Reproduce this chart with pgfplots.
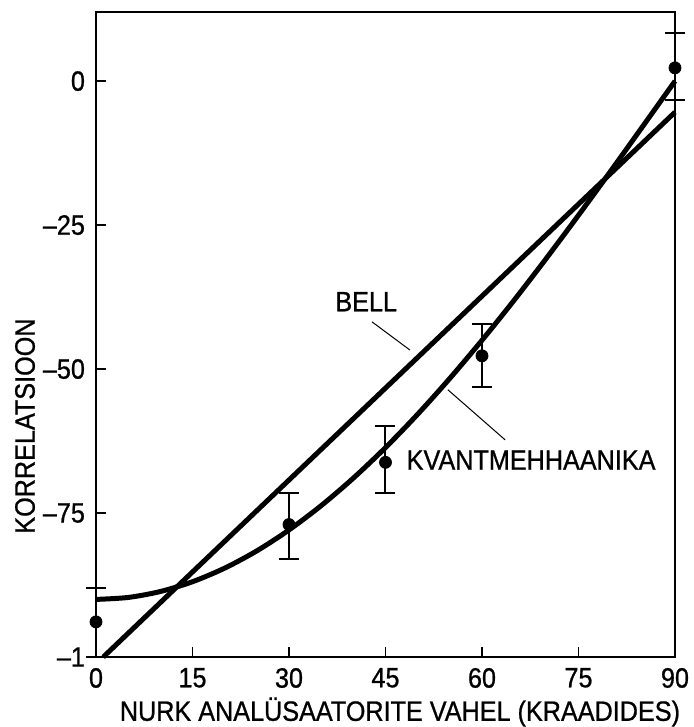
\documentclass[border=0pt]{standalone}
\usepackage{pgfplots}
\pgfplotsset{compat=1.18}
\usepackage{fontspec}
\setmainfont[FakeStretch=0.9,FakeBold=0.8]{Liberation Sans}
\begin{document}
\begin{tikzpicture}
\useasboundingbox (-48pt,-35pt) rectangle (298.5pt,328.5pt);
\begin{axis}[
  at={(0,0)}, anchor=south west,
  scale only axis, width=289.5pt, height=322.5pt,
  xmin=0, xmax=90, ymin=-100, ymax=12,
  axis line style={line width=1pt},
  xtick={0,15,30,45,60,75,90},
  ytick={-100,-75,-50,-25,0},
  yticklabels={--1,--75,--50,--25,0},
  xticklabels={0,15,30,45,60,75,90},
  /pgf/number format/assume math mode=true,
  tick align=inside, xtick pos=bottom, ytick pos=left,
  major tick length=5pt,
  tick style={line width=0.9pt, black},
  ticklabel style={font=\fontsize{14}{16}\selectfont},
  yticklabel style={xshift=-2pt},
  xticklabel style={yshift=-2pt},
  xlabel={NURK ANALÜSAATORITE VAHEL (KRAADIDES)},
  ylabel={KORRELATSIOON},
  label style={font=\fontsize{14}{16}\selectfont},
  xlabel style={at={(rel axis cs:0.525,0)}, anchor=center, yshift=-27.5pt},
  ylabel style={at={(rel axis cs:-0.1226,0.358)}, anchor=center},
  clip=false,
]
% Bell linear prediction
\addplot[black, line width=2.5pt] coordinates {(1.13,-100) (90,-5.4)};
% quantum mechanical prediction
\addplot[black, line width=2.5pt, smooth] coordinates {
(0,-90) (5,-89.66) (10,-88.63) (15,-86.93) (20,-84.57) (25,-81.57)
(30,-77.94) (35,-73.72) (40,-68.94) (45,-63.64) (50,-57.85) (55,-51.62)
(60,-45) (65,-38.04) (70,-30.78) (75,-23.29) (80,-15.63) (85,-7.84) (90,0)};
% measurements
\addplot[black, only marks, mark=*, mark size=3pt,
  error bars/.cd, y dir=both, y explicit,
  error bar style={line width=1pt},
  error mark options={rotate=90, mark size=5pt, line width=1pt}]
  coordinates {
  (0,-93.9) += (0,5.9) -= (0,6.1)
  (30,-77.0) += (0,5.4) -= (0,6.0)
  (45,-66.2) += (0,6.3) -= (0,5.4)
  (60,-47.7) += (0,5.6) -= (0,5.4)
  (90,2.3) += (0,6.1) -= (0,5.6)
  };
\draw[line width=0.5pt] (axis cs:42.9,-41.8) -- (axis cs:48.8,-46.7);
\draw[line width=0.5pt] (axis cs:63.6,-62.3) -- (axis cs:54.7,-53.6);
\node[font=\fontsize{14}{16}\selectfont] at (axis cs:42,-38.3) {BELL};
\node[font=\fontsize{14}{16}\selectfont, anchor=west] at (axis cs:47.2,-65.8) {KVANTMEHHAANIKA};
\end{axis}
\end{tikzpicture}
\end{document}
